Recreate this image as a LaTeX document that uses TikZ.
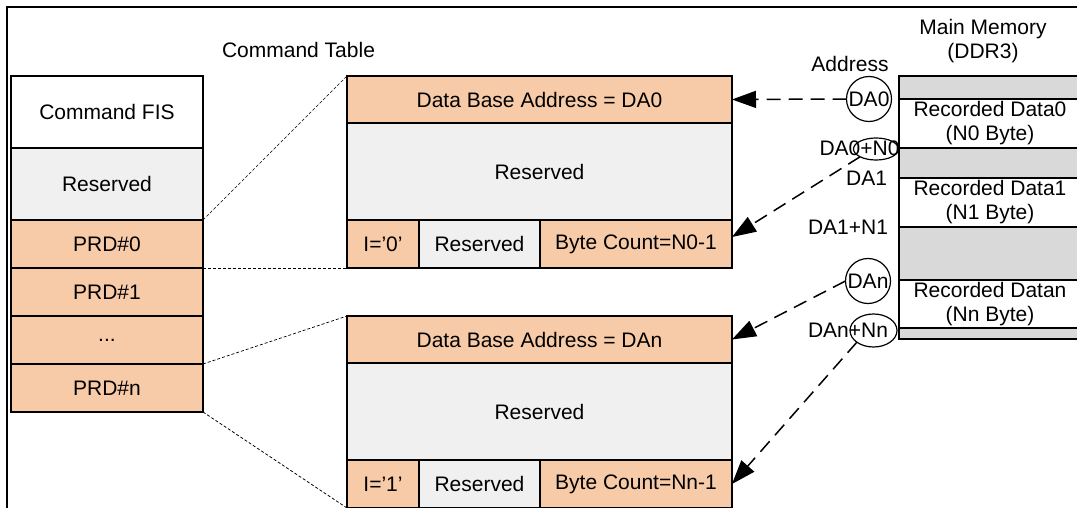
\documentclass[tikz,border=0pt]{standalone}
\usepackage{fontspec}
\setmainfont{Liberation Sans}
\usetikzlibrary{arrows.meta,shapes.geometric}
\definecolor{peach}{HTML}{F8CBA8}
\definecolor{resgray}{HTML}{F0F0F0}
\definecolor{memgray}{HTML}{D9D9D9}
\begin{document}
\begin{tikzpicture}[x=1pt,y=-1pt,
  font=\fontsize{21}{24}\selectfont,
  cell/.style={draw, line width=1.6pt, inner sep=0pt, outer sep=0pt, anchor=center},
  orangecell/.style={cell, fill=peach},
  resvcell/.style={cell, fill=resgray},
  whitecell/.style={cell, fill=white},
  memcell/.style={cell, fill=memgray},
  lbl/.style={inner sep=0pt, outer sep=0pt},
  ring/.style={draw, line width=1.2pt, circle, minimum size=45pt, inner sep=0pt, outer sep=0pt},
  oval/.style={draw, line width=1.2pt, ellipse, inner sep=0pt, outer sep=0pt},
  zoomline/.style={line width=0.7pt, dash pattern=on 3pt off 2pt},
  ptr/.style={line width=1.5pt, dash pattern=on 14pt off 8pt, -{Triangle[length=24pt,width=17pt]}}
]
\useasboundingbox (0,0) rectangle (1077,508);
\clip (0,0) rectangle (1077,508);

% outer frame (top and left)
\draw[line width=2pt] (7,520) -- (7,7) -- (1090,7);

% left column
\node[whitecell, minimum width=192pt, minimum height=72pt] (cfis) at (107,112) {Command FIS};
\node[resvcell, minimum width=192pt, minimum height=72pt] (res0) at (107,184) {Reserved};
\node[orangecell, minimum width=192pt, minimum height=48pt] (prd0) at (107,244) {PRD\#0};
\node[orangecell, minimum width=192pt, minimum height=48pt] (prd1) at (107,292) {PRD\#1};
\node[orangecell, minimum width=192pt, minimum height=48pt] (dots) at (107,340) {...};
\node[orangecell, minimum width=192pt, minimum height=48pt] (prdn) at (107,388) {PRD\#n};

\node[lbl] (cttitle) at (298.5,50) {Command Table};

% table 1
\node[orangecell, minimum width=385pt, minimum height=47pt] (t1a) at (539.5,99.5) {Data Base Address = DA0};
\node[resvcell, minimum width=385pt, minimum height=97pt] (t1r) at (539.5,171.5) {Reserved};
\node[orangecell, minimum width=72pt, minimum height=48pt] (t1i) at (383,244) {I='0'};
\node[resvcell, minimum width=121pt, minimum height=48pt] (t1rr) at (479.5,244) {Reserved};
\node[orangecell, minimum width=192pt, minimum height=48pt] (t1bc) at (636,244) {Byte Count=N0-1};

% table 2
\node[orangecell, minimum width=385pt, minimum height=47pt] (t2a) at (539.5,339.5) {Data Base Address = DAn};
\node[resvcell, minimum width=385pt, minimum height=97pt] (t2r) at (539.5,411.5) {Reserved};
\node[orangecell, minimum width=72pt, minimum height=48pt] (t2i) at (383,484) {I='1'};
\node[resvcell, minimum width=121pt, minimum height=48pt] (t2rr) at (479.5,484) {Reserved};
\node[orangecell, minimum width=192pt, minimum height=48pt] (t2bc) at (636,484) {Byte Count=Nn-1};

% zoom lines
\draw[zoomline] (prd0.north east) -- (t1a.north west);
\draw[zoomline] (prd0.south east) -- (t1i.south west);
\draw[zoomline] (dots.south east) -- (t2a.north west);
\draw[zoomline] (prdn.south east) -- (t2i.south west);

% main memory
\node[lbl, align=center] (mmtitle) at (983,41) {Main Memory\\(DDR3)};
\node[memcell, minimum width=182pt, minimum height=23pt] (m0) at (990,87.5) {};
\node[whitecell, minimum width=182pt, minimum height=49pt, align=center] (d0) at (990,123.5) {Recorded Data0\\(N0 Byte)};
\node[memcell, minimum width=182pt, minimum height=30pt] (m1) at (990,163) {};
\node[whitecell, minimum width=182pt, minimum height=49pt, align=center] (d1) at (990,202.5) {Recorded Data1\\(N1 Byte)};
\node[memcell, minimum width=182pt, minimum height=53pt] (m2) at (990,253.5) {};
\node[whitecell, minimum width=182pt, minimum height=48pt, align=center] (dn) at (990,304) {Recorded Datan\\(Nn Byte)};
\node[memcell, minimum width=182pt, minimum height=11pt] (m3) at (990,333.5) {};

% addresses
\node[lbl] (addr) at (850,64) {Address};
\node[ring] (c0) at (869,99) {DA0};
\node[lbl] (l0) at (859.5,148) {DA0+N0};
\node[oval, minimum width=45pt, minimum height=22pt] (e0) at (876,149) {};
\node[lbl, anchor=east] (l1) at (887,178) {DA1};
\node[lbl, anchor=east] (l1n) at (888,227) {DA1+N1};
\node[ring] (cn) at (868,281) {DAn};
\node[lbl] (ln) at (848,330.5) {DAn+Nn};
\node[oval, minimum width=47pt, minimum height=33pt] (en) at (873.5,330.5) {};

% pointers
\draw[ptr] (c0.west) -- (t1a.east);
\draw[ptr] (e0.south west) -- ([yshift=7pt]t1bc.east);
\draw[ptr] (cn.west) -- (t2a.east);
\draw[ptr] (en.south west) -- (t2bc.east);
\end{tikzpicture}
\end{document}
